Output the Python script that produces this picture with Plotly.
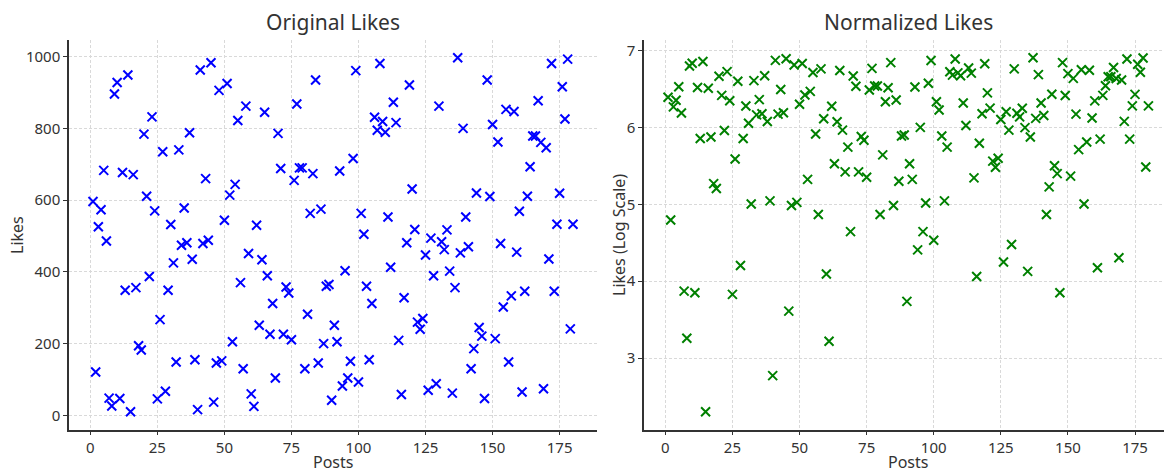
import numpy as np
import plotly.graph_objects as go

posts = list(range(1, 181))
likes = [
    596, 121, 526, 573, 683, 486, 48, 26, 896, 928,
    47, 677, 349, 949, 10, 671, 356, 194, 182, 784,
    611, 387, 832, 570, 46, 267, 735, 67, 349, 532,
    425, 149, 740, 474, 578, 481, 788, 435, 155, 16,
    963, 479, 660, 488, 983, 37, 146, 906, 152, 544,
    925, 614, 205, 644, 822, 370, 130, 862, 451, 60,
    25, 530, 251, 434, 845, 389, 226, 312, 104, 786,
    688, 226, 358, 341, 211, 655, 868, 690, 690, 130,
    282, 563, 674, 935, 146, 575, 200, 360, 365, 42,
    251, 205, 681, 82, 403, 104, 151, 716, 961, 93,
    563, 505, 360, 155, 312, 831, 795, 981, 819, 789,
    553, 413, 873, 816, 209, 58, 328, 481, 921, 631,
    518, 260, 240, 270, 447, 70, 494, 389, 88, 862,
    484, 462, 517, 402, 62, 356, 997, 453, 800, 553,
    470, 130, 186, 620, 245, 221, 47, 935, 610, 811,
    214, 762, 479, 302, 853, 149, 333, 847, 455, 569,
    65, 346, 611, 693, 779, 779, 877, 761, 74, 746,
    436, 981, 346, 533, 619, 916, 826, 993, 241, 533,
]
norm_likes = np.log(np.array(likes, dtype=float))

x_ticks = [0, 25, 50, 75, 100, 125, 150, 175]
y1_ticks = [0, 200, 400, 600, 800, 1000]
y2_ticks = [3, 4, 5, 6, 7]

W, H = 1164, 473
FONT = "Noto Sans"
TXT = "#333333"

fig = go.Figure()
fig.add_trace(go.Scatter(
    x=posts, y=likes, mode="markers", xaxis="x", yaxis="y",
    marker=dict(symbol="x-thin", size=9, color="#0000ff",
                line=dict(color="#0000ff", width=2)),
    showlegend=False,
))
fig.add_trace(go.Scatter(
    x=posts, y=norm_likes, mode="markers", xaxis="x2", yaxis="y2",
    marker=dict(symbol="x-thin", size=9, color="#008000",
                line=dict(color="#008000", width=2)),
    showlegend=False,
))

def px_x(p):
    return p / W

def px_y(p):
    return 1 - p / H

ax_common = dict(
    showline=True, linecolor="#333333", linewidth=1.5, mirror=False,
    ticks="outside", ticklen=4, tickwidth=1.2, tickcolor="#333333",
    showgrid=True, gridcolor="#d9d9d9", griddash="3px,2px", gridwidth=1,
    zeroline=False, tickfont=dict(family=FONT, size=15, color=TXT),
)

def ann(text, x, y, size, angle=0):
    return dict(text=text, x=px_x(x), y=px_y(y), xref="paper", yref="paper",
                showarrow=False, xanchor="center", yanchor="middle", textangle=angle,
                font=dict(family=FONT, size=size, color=TXT))

fig.update_layout(
    width=W, height=H,
    margin=dict(l=0, r=0, t=0, b=0),
    paper_bgcolor="white", plot_bgcolor="white",
    font=dict(family=FONT, color=TXT),
    xaxis=dict(domain=[px_x(69), px_x(597)], range=[-7.95, 188.95],
               tickvals=x_ticks, anchor="y", **ax_common),
    yaxis=dict(domain=[px_y(429.5), px_y(40)], range=[-39.4, 1046.4],
               tickvals=y1_ticks, anchor="x", **ax_common),
    xaxis2=dict(domain=[px_x(644), 1.0], range=[-7.95, 185.8],
                tickvals=x_ticks, anchor="y2", **ax_common),
    yaxis2=dict(domain=[px_y(429.5), px_y(40)], range=[2.072, 7.135],
                tickvals=y2_ticks, anchor="x2", **ax_common),
    annotations=[
        ann("Original Likes", 333, 22, 21),
        ann("Normalized Likes", 908, 22, 21),
        ann("Posts", 333, 462, 16),
        ann("Posts", 908, 462, 16),
        ann("Likes", 17, 235, 16, -90),
        ann("Likes (Log Scale)", 619, 235, 16, -90),
    ],
)

fig.write_html("out.html")
